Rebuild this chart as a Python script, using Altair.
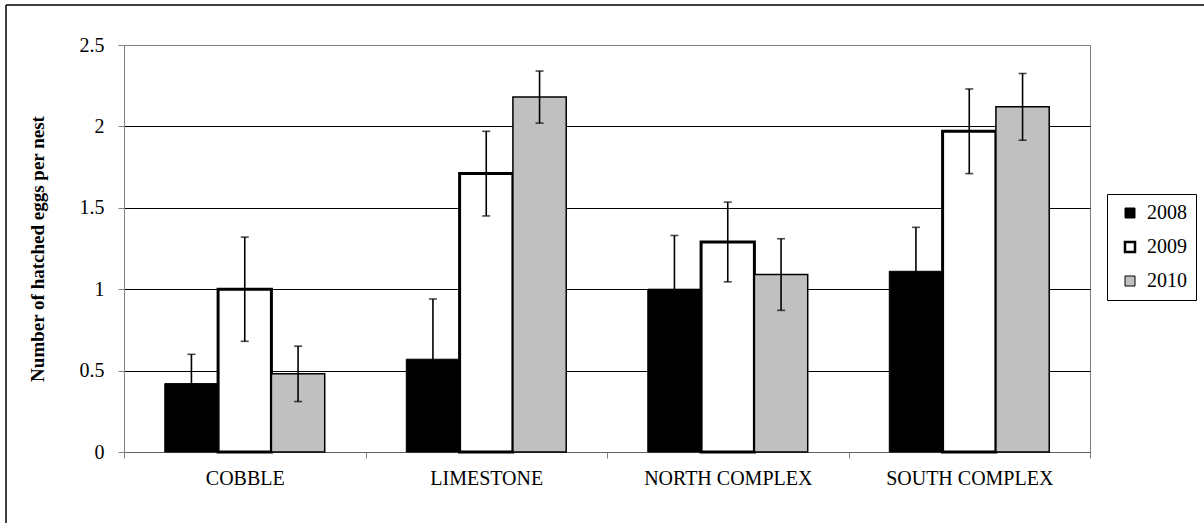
import altair as alt
import pandas as pd

sites = ["COBBLE", "LIMESTONE", "NORTH COMPLEX", "SOUTH COMPLEX"]
years = ["2008", "2009", "2010"]
means_2008 = [0.42, 0.57, 1.00, 1.11]
means_2009 = [1.00, 1.71, 1.29, 1.97]
means_2010 = [0.48, 2.18, 1.09, 2.12]
err_2008 = [0.18, 0.37, 0.33, 0.27]
err_2009 = [0.32, 0.26, 0.245, 0.26]
err_2010 = [0.17, 0.16, 0.22, 0.205]
fills = ["#000000", "#FFFFFF", "#C0C0C0"]
stroke_widths = [1.0, 3.0, 1.5]

rows = []
for yi, (yr, means, errs) in enumerate(zip(years, [means_2008, means_2009, means_2010],
                                             [err_2008, err_2009, err_2010])):
    for s, m, e in zip(sites, means, errs):
        rows.append({"site": s, "year": yr, "value": m, "lower": m - e, "upper": m + e,
                     "sw": stroke_widths[yi]})
df = pd.DataFrame(rows)

FONT = "Liberation Serif"

x_enc = alt.X("site:N", sort=sites,
              scale=alt.Scale(paddingInner=0, paddingOuter=0),
              axis=alt.Axis(title=None, labelAngle=0, labelFont=FONT, labelFontSize=20,
                            labelColor="black", tickBand="extent", ticks=True, tickSize=6,
                            tickColor="#808080", domainColor="#606060", labelPadding=10,
                            grid=False))
xo_enc = alt.XOffset("year:N", sort=years,
                     scale=alt.Scale(paddingInner=0, paddingOuter=0.765))
y_scale = alt.Scale(domain=[0, 2.5], nice=False, zero=True)

base = alt.Chart(df).encode(x=x_enc, xOffset=xo_enc)

bars = base.mark_bar(stroke="black").encode(
    y=alt.Y("value:Q", scale=y_scale,
            axis=alt.Axis(values=[0, 0.5, 1, 1.5, 2, 2.5], format="~g",
                          labelFont=FONT, labelFontSize=20, labelColor="black",
                          labelPadding=14, tickSize=6, tickColor="#808080",
                          domainColor="#808080", grid=True,
                          gridColor={"condition": {"test": "datum.value >= 2.5", "value": "#808080"},
                                     "value": "black"},
                          gridWidth=1,
                          title="Number of hatched eggs per nest", titleFont=FONT,
                          titleFontSize=19, titleFontWeight="bold", titleColor="black",
                          titleX=-87, titleY=203.5, titleAngle=270, titleAlign="center",
                          titleBaseline="middle")),
    fill=alt.Fill("year:N", scale=alt.Scale(domain=years, range=fills),
                  legend=alt.Legend(title=None, orient="none", legendX=983, legendY=149,
                                    symbolType="square", symbolSize=100,
                                    symbolStrokeColor="black",
                                    symbolStrokeWidth={"expr": "datum.value == '2009' ? 2.5 : 1"},
                                    labelFont=FONT, labelFontSize=20, labelColor="black",
                                    strokeColor="black", fillColor="white", padding=9,
                                    symbolOffset=4, rowPadding=14, labelOffset=7)),
    strokeWidth=alt.StrokeWidth("sw:Q", scale=None, legend=None),
)

err_rule = base.mark_rule(color="black", strokeWidth=1.6).encode(
    y=alt.Y("lower:Q", scale=y_scale), y2="upper:Q")
cap_hi = base.mark_tick(color="black", thickness=1.6, size=8).encode(
    y=alt.Y("upper:Q", scale=y_scale))
cap_lo = base.mark_tick(color="black", thickness=1.6, size=8).encode(
    y=alt.Y("lower:Q", scale=y_scale))

frame_df = pd.DataFrame({"k": [0]})
frame_top = alt.Chart(frame_df).mark_rule(color="black", strokeWidth=1.5).encode(
    x=alt.value(-118), x2=alt.value(1100), y=alt.value(-40))
frame_left = alt.Chart(frame_df).mark_rule(color="black", strokeWidth=1.5).encode(
    x=alt.value(-118), y=alt.value(-40), y2=alt.value(500))

chart = alt.layer(bars, err_rule, cap_hi, cap_lo, frame_top, frame_left).properties(
    width=966, height=407,
    autosize=alt.AutoSizeParams(type="none"),
    padding={"left": 124, "top": 45, "right": 114, "bottom": 71},
    background="white",
).configure_view(stroke="#808080", strokeWidth=1)

chart.save("out.html", embed_options={"renderer": "svg", "actions": False})
